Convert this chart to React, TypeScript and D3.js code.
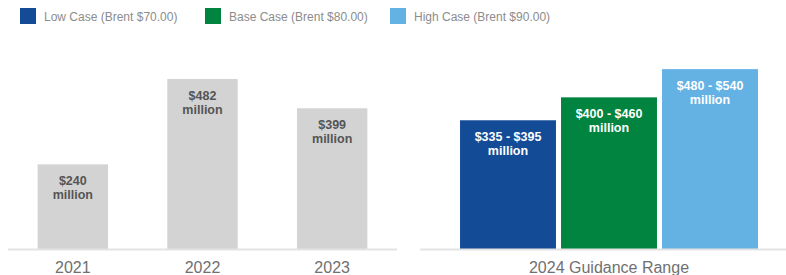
import React from 'react';
import * as d3 from 'd3';

// historical results ($ million)
const years = ['2021', '2022', '2023'];
const actuals = [240, 482, 399];

// 2024 guidance by Brent case ($ million)
const cases = ['Low Case (Brent $70.00)', 'Base Case (Brent $80.00)', 'High Case (Brent $90.00)'];
const guidanceLow = [335, 400, 480];
const guidanceHigh = [395, 460, 540];
const guidanceMid = [365, 430, 510];
const caseColors = ['#134B97', '#00843F', '#64B1E4'];

const W = 786;
const H = 275;
const FONT = 'Arial, "Liberation Sans", Helvetica, sans-serif';

export default function App() {
    const baseY = 249;

    // shared value scale for both panels
    const y = d3.scaleLinear().domain([0, 482]).range([baseY, 79]);

    const xHist = d3.scaleBand<string>()
        .domain(years)
        .range([8, 397])
        .paddingInner(0.457)
        .paddingOuter(0.2285);

    const xCase = d3.scaleBand<string>()
        .domain(cases)
        .range([457.5, 760.5])
        .paddingInner(0.05)
        .paddingOuter(0.025);

    const legendX = [20, 205, 390];

    return (
        <svg width={W} height={H} style={{ position: 'absolute', left: 0, top: 0, background: '#fff' }}
            fontFamily={FONT}>
            {/* Legend */}
            {cases.map((c, i) => (
                <g key={c} transform={`translate(${legendX[i]},8)`}>
                    <rect width={16} height={16} fill={caseColors[i]} />
                    <text x={24} y={13} fontSize={12} fill="#8c8c8c">{c}</text>
                </g>
            ))}

            {/* Historical bars */}
            {years.map((yr, i) => {
                const x0 = xHist(yr)!;
                const bw = xHist.bandwidth();
                const top = y(actuals[i]);
                return (
                    <g key={yr}>
                        <rect x={x0} y={top} width={bw} height={baseY - top} fill="#D3D3D3" />
                        <text x={x0 + bw / 2} y={top + 21} textAnchor="middle" fontSize={12.5}
                            fontWeight="bold" fill="#555">{`$${actuals[i]}`}</text>
                        <text x={x0 + bw / 2} y={top + 35} textAnchor="middle" fontSize={12.5}
                            fontWeight="bold" fill="#555">million</text>
                        <text x={x0 + bw / 2} y={273} textAnchor="middle" fontSize={16}
                            fill="#707070">{yr}</text>
                    </g>
                );
            })}
            <line x1={8} x2={397} y1={baseY + 0.5} y2={baseY + 0.5} stroke="#E3E3E3" strokeWidth={2} />

            {/* Guidance bars */}
            {cases.map((c, i) => {
                const x0 = xCase(c)!;
                const bw = xCase.bandwidth();
                const top = y(guidanceMid[i]);
                return (
                    <g key={c}>
                        <rect x={x0} y={top} width={bw} height={baseY - top} fill={caseColors[i]} />
                        <text x={x0 + bw / 2} y={top + 21} textAnchor="middle" fontSize={12.5}
                            fontWeight="bold" fill="#fff">{`$${guidanceLow[i]} - $${guidanceHigh[i]}`}</text>
                        <text x={x0 + bw / 2} y={top + 35} textAnchor="middle" fontSize={12.5}
                            fontWeight="bold" fill="#fff">million</text>
                    </g>
                );
            })}
            <line x1={420} x2={786} y1={baseY + 0.5} y2={baseY + 0.5} stroke="#E3E3E3" strokeWidth={2} />
            <text x={(xCase.range()[0] + xCase.range()[1]) / 2} y={273} textAnchor="middle" fontSize={16}
                fill="#707070">2024 Guidance Range</text>
        </svg>
    );
}
